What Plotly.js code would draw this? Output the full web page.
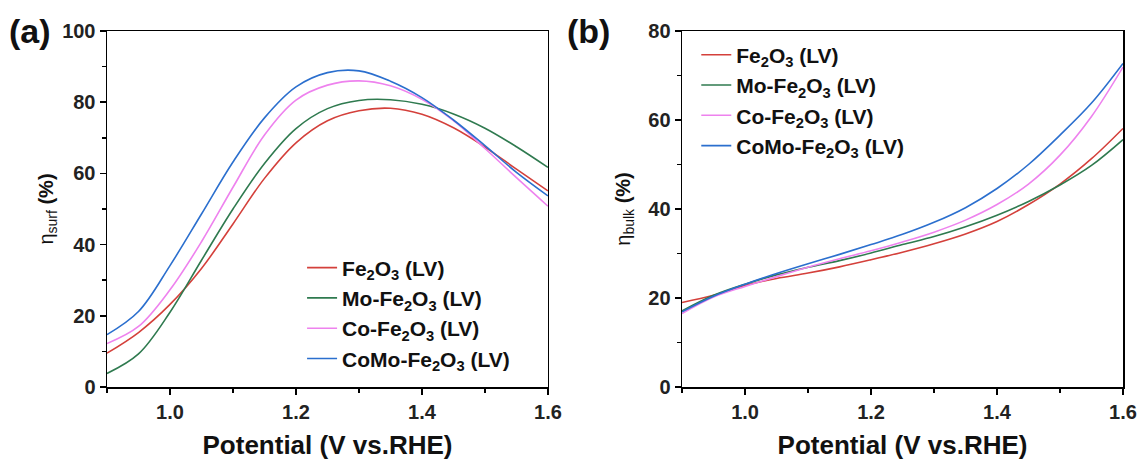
<!DOCTYPE html>
<html>
<head>
<meta charset="utf-8">
<script src="https://cdn.plot.ly/plotly-3.0.1.min.js"></script>
<style>
  html, body { margin: 0; padding: 0; background: #fff; }
  #chart { width: 1143px; height: 461px; }
</style>
</head>
<body>
<div id="chart"></div>
<script>
// Sample names shown in both legends
const seriesNames = [
  'Fe<sub>2</sub>O<sub>3</sub> (LV)',
  'Mo-Fe<sub>2</sub>O<sub>3</sub> (LV)',
  'Co-Fe<sub>2</sub>O<sub>3</sub> (LV)',
  'CoMo-Fe<sub>2</sub>O<sub>3</sub> (LV)'
];
const seriesColors = ['#d4403b', '#2f7a4f', '#ee82ee', '#2b6fce'];

// (a) surface charge-transfer efficiency vs potential
const potentialA = [0.90, 0.95, 1.00, 1.05, 1.10, 1.15, 1.20, 1.25, 1.30, 1.35, 1.40, 1.45, 1.50, 1.55, 1.60];
const surfFe   = [9.5, 15.3, 23.2, 33.3, 45.8, 58.6, 68.6, 74.8, 77.6, 78.3, 76.6, 72.8, 67.4, 61.2, 55.1];
const surfMo   = [3.8, 9.3, 21.0, 35.6, 50.0, 62.8, 72.6, 78.2, 80.5, 80.7, 79.4, 76.7, 72.7, 67.5, 61.7];
const surfCo   = [12.2, 17.0, 27.3, 40.8, 56.1, 70.8, 80.6, 84.8, 86.0, 84.6, 80.8, 74.8, 67.0, 58.8, 50.8];
const surfCoMo = [14.7, 21.2, 34.1, 48.6, 63.2, 75.6, 84.3, 88.3, 88.8, 85.9, 81.3, 75.0, 67.8, 60.3, 53.7];

// (b) bulk charge-separation efficiency vs potential
const potentialB = [0.90, 0.95, 1.00, 1.05, 1.10, 1.15, 1.20, 1.25, 1.30, 1.35, 1.40, 1.45, 1.50, 1.55, 1.60];
const bulkFe   = [19.0, 20.6, 22.8, 24.4, 25.6, 27.0, 28.6, 30.3, 32.2, 34.4, 37.2, 41.0, 45.6, 51.3, 58.1];
const bulkMo   = [17.1, 20.6, 23.1, 25.2, 26.9, 28.4, 30.1, 32.0, 33.8, 36.0, 38.6, 41.7, 45.4, 49.8, 55.6];
const bulkCo   = [16.5, 20.2, 22.6, 24.8, 26.9, 28.8, 30.6, 32.6, 34.8, 37.5, 41.0, 45.6, 52.1, 60.8, 71.9];
const bulkCoMo = [16.9, 20.4, 23.1, 25.5, 27.7, 29.8, 32.0, 34.3, 37.0, 40.3, 44.6, 50.0, 56.6, 63.8, 72.7];

const surfSeries = [surfFe, surfMo, surfCo, surfCoMo];
const bulkSeries = [bulkFe, bulkMo, bulkCo, bulkCoMo];

const FONT = 'Liberation Sans, Arial, sans-serif';

const traces = [];
surfSeries.forEach((ys, i) => {
  traces.push({
    x: potentialA, y: ys, name: seriesNames[i],
    type: 'scatter', mode: 'lines',
    line: { color: seriesColors[i], width: 1.6, shape: 'spline', smoothing: 1 },
    xaxis: 'x', yaxis: 'y', legend: 'legend'
  });
});
bulkSeries.forEach((ys, i) => {
  traces.push({
    x: potentialB, y: ys, name: seriesNames[i],
    type: 'scatter', mode: 'lines',
    line: { color: seriesColors[i], width: 1.6, shape: 'spline', smoothing: 1 },
    xaxis: 'x2', yaxis: 'y2', legend: 'legend2'
  });
});

function xAxis(domain, anchor) {
  return {
    domain: domain, anchor: anchor, range: [0.9, 1.6],
    tick0: 0, dtick: 0.2, tickformat: '.1f',
    ticks: 'outside', ticklen: 6, tickwidth: 1.5, tickcolor: '#000',
    minor: { dtick: 0.1, ticks: 'outside', ticklen: 4, tickwidth: 1.5, tickcolor: '#000', showgrid: false },
    showline: true, linecolor: '#000', linewidth: 1.5, mirror: true,
    showgrid: false, zeroline: false,
    tickfont: { family: FONT, size: 20, weight: 'bold', color: '#222' },
    title: { text: 'Potential (V vs.RHE)', standoff: 14,
             font: { family: FONT, size: 26, weight: 'bold', color: '#111' } }
  };
}
function yAxis(range, anchor, title, standoff) {
  return {
    domain: [0, 1], anchor: anchor, range: range,
    tick0: 0, dtick: 20,
    ticks: 'outside', ticklen: 6, tickwidth: 1.5, tickcolor: '#000',
    minor: { dtick: 10, ticks: 'outside', ticklen: 4, tickwidth: 1.5, tickcolor: '#000', showgrid: false },
    showline: true, linecolor: '#000', linewidth: 1.5, mirror: true,
    showgrid: false, zeroline: false,
    tickfont: { family: FONT, size: 20, weight: 'bold', color: '#222' },
    title: { text: title, standoff: standoff,
             font: { family: FONT, size: 20, color: '#111' } }
  };
}

const legendBase = {
  bgcolor: 'rgba(0,0,0,0)', borderwidth: 0,
  font: { family: FONT, size: 21, weight: 'bold', color: '#111' },
  xanchor: 'left', yanchor: 'top', tracegroupgap: 0, itemwidth: 30
};

const layout = {
  width: 1143, height: 461,
  margin: { l: 107, r: 20, t: 31, b: 74 },
  paper_bgcolor: '#fff', plot_bgcolor: '#fff',
  showlegend: true,
  xaxis: xAxis([0, 0.434], 'y'),
  yaxis: yAxis([0, 100], 'x', 'η<sub>surf</sub> <b>(%)</b>', 3),
  xaxis2: xAxis([0.566, 1], 'y2'),
  yaxis2: yAxis([0, 80], 'x2', 'η<sub>bulk</sub> <b>(%)</b>', 12),
  legend: Object.assign({}, legendBase, { x: 0.192, y: 0.392 }),
  legend2: Object.assign({}, legendBase, { x: 0.58, y: 0.99 }),
  annotations: [
    { text: '(a)', xref: 'paper', yref: 'paper', x: -0.076, y: 1.0, xanchor: 'center', yanchor: 'middle',
      showarrow: false, font: { family: FONT, size: 34, weight: 'bold', color: '#111' } },
    { text: '(b)', xref: 'paper', yref: 'paper', x: 0.474, y: 1.0, xanchor: 'center', yanchor: 'middle',
      showarrow: false, font: { family: FONT, size: 34, weight: 'bold', color: '#111' } }
  ]
};

Plotly.newPlot('chart', traces, layout, { displayModeBar: false, staticPlot: true });
</script>
</body>
</html>
